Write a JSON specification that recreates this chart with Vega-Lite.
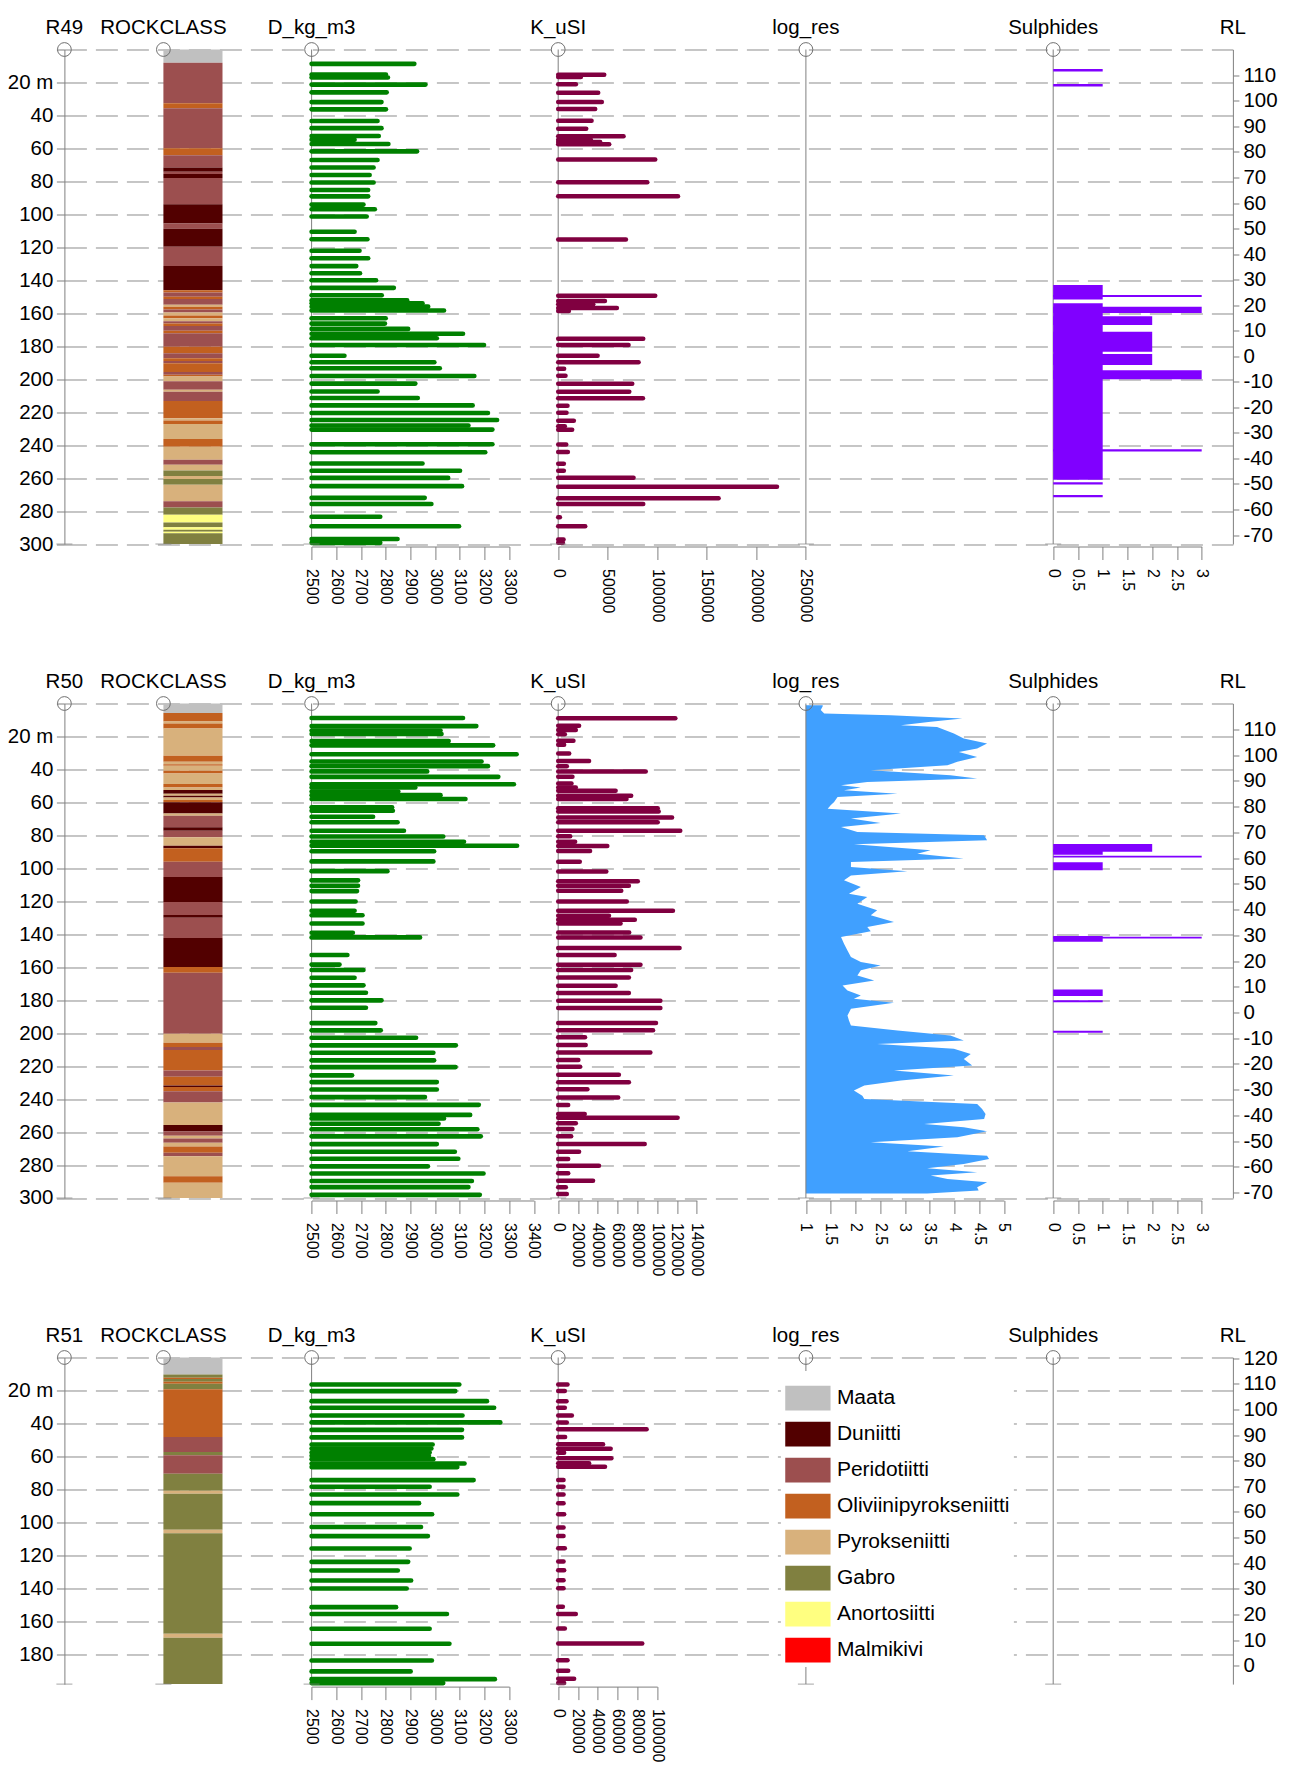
{
"$schema": "https://vega.github.io/schema/vega-lite/v6.json",
"background": "white",
"padding": {"left": 6.4, "top": 17.5, "right": 10, "bottom": 10},
"spacing": 49,
"config": {"view": {"stroke": null}, "font": "Liberation Sans", "axis": {"labelFont": "Liberation Sans", "domainWidth": 1, "tickWidth": 1}, "text": {"font": "Liberation Sans"}, "legend": {"labelFont": "Liberation Sans"}},
"resolve": {"scale": {"color": "independent"}, "legend": {"color": "independent"}},
"datasets": {
"r49_rock": [
{"from":0,"to":8.1,"rock":"Maata"},{"from":8.1,"to":32.6,"rock":"Peridotiitti"},{"from":32.6,"to":35.6,"rock":"Oliviinipyrokseniitti"},{"from":35.6,"to":59.9,"rock":"Peridotiitti"},{"from":59.9,"to":64.2,"rock":"Oliviinipyrokseniitti"},{"from":64.2,"to":71.6,"rock":"Peridotiitti"},{"from":71.6,"to":74.2,"rock":"Duniitti"},{"from":74.2,"to":75.5,"rock":"Peridotiitti"},{"from":75.5,"to":77.9,"rock":"Duniitti"},{"from":77.9,"to":93.9,"rock":"Peridotiitti"},{"from":93.9,"to":105.6,"rock":"Duniitti"},{"from":105.6,"to":108.8,"rock":"Peridotiitti"},{"from":108.8,"to":119.7,"rock":"Duniitti"},{"from":119.7,"to":131.4,"rock":"Peridotiitti"},{"from":131.4,"to":146.1,"rock":"Duniitti"},{"from":146.1,"to":147.4,"rock":"Oliviinipyrokseniitti"},{"from":147.4,"to":150,"rock":"Peridotiitti"},{"from":150,"to":151.3,"rock":"Oliviinipyrokseniitti"},{"from":151.3,"to":154.8,"rock":"Peridotiitti"},{"from":154.8,"to":156.1,"rock":"Pyrokseniitti"},{"from":156.1,"to":157.8,"rock":"Oliviinipyrokseniitti"},{"from":157.8,"to":159.6,"rock":"Peridotiitti"},{"from":159.6,"to":161.3,"rock":"Pyrokseniitti"},{"from":161.3,"to":163,"rock":"Oliviinipyrokseniitti"},{"from":163,"to":164.8,"rock":"Pyrokseniitti"},{"from":164.8,"to":166.3,"rock":"Peridotiitti"},{"from":166.3,"to":167.8,"rock":"Oliviinipyrokseniitti"},{"from":167.8,"to":170.6,"rock":"Peridotiitti"},{"from":170.6,"to":172.1,"rock":"Oliviinipyrokseniitti"},{"from":172.1,"to":180.4,"rock":"Peridotiitti"},{"from":180.4,"to":184.3,"rock":"Oliviinipyrokseniitti"},{"from":184.3,"to":187.3,"rock":"Peridotiitti"},{"from":187.3,"to":189,"rock":"Oliviinipyrokseniitti"},{"from":189,"to":190.4,"rock":"Peridotiitti"},{"from":190.4,"to":195.6,"rock":"Oliviinipyrokseniitti"},{"from":195.6,"to":197.3,"rock":"Peridotiitti"},{"from":197.3,"to":198.4,"rock":"Oliviinipyrokseniitti"},{"from":198.4,"to":201.2,"rock":"Pyrokseniitti"},{"from":201.2,"to":206.4,"rock":"Peridotiitti"},{"from":206.4,"to":207.7,"rock":"Pyrokseniitti"},{"from":207.7,"to":213.3,"rock":"Peridotiitti"},{"from":213.3,"to":223.7,"rock":"Oliviinipyrokseniitti"},{"from":223.7,"to":225,"rock":"Pyrokseniitti"},{"from":225,"to":227.2,"rock":"Oliviinipyrokseniitti"},{"from":227.2,"to":236.3,"rock":"Pyrokseniitti"},{"from":236.3,"to":241,"rock":"Oliviinipyrokseniitti"},{"from":241,"to":248.9,"rock":"Pyrokseniitti"},{"from":248.9,"to":251.9,"rock":"Peridotiitti"},{"from":251.9,"to":255.4,"rock":"Pyrokseniitti"},{"from":255.4,"to":258.8,"rock":"Gabro"},{"from":258.8,"to":260.6,"rock":"Pyrokseniitti"},{"from":260.6,"to":264,"rock":"Gabro"},{"from":264,"to":274,"rock":"Pyrokseniitti"},{"from":274,"to":277.9,"rock":"Peridotiitti"},{"from":277.9,"to":282.2,"rock":"Gabro"},{"from":282.2,"to":287,"rock":"Anortosiitti"},{"from":287,"to":289.8,"rock":"Gabro"},{"from":289.8,"to":291.3,"rock":"Anortosiitti"},{"from":291.3,"to":292.6,"rock":"Gabro"},{"from":292.6,"to":293.5,"rock":"Anortosiitti"},{"from":293.5,"to":300,"rock":"Gabro"}
],
"r49_d": [
{"depth":8.7,"d":2916},{"depth":15.2,"d":2801},{"depth":17,"d":2809},{"depth":21.3,"d":2961},{"depth":26,"d":2804},{"depth":31.9,"d":2783},{"depth":36.3,"d":2801},{"depth":43.4,"d":2767},{"depth":47.7,"d":2783},{"depth":52.5,"d":2772},{"depth":54.7,"d":2674},{"depth":57.3,"d":2811},{"depth":61.8,"d":2927},{"depth":67,"d":2767},{"depth":71.6,"d":2751},{"depth":76.1,"d":2735},{"depth":80.7,"d":2751},{"depth":85.2,"d":2729},{"depth":89.1,"d":2729},{"depth":94.1,"d":2710},{"depth":96.9,"d":2756},{"depth":101.3,"d":2723},{"depth":110.6,"d":2674},{"depth":115.1,"d":2726},{"depth":122.1,"d":2694},{"depth":126.6,"d":2729},{"depth":131.4,"d":2681},{"depth":135.7,"d":2696},{"depth":140,"d":2761},{"depth":144.6,"d":2833},{"depth":149.1,"d":2784},{"depth":152.2,"d":2887},{"depth":153.9,"d":2949},{"depth":156,"d":2972},{"depth":158.3,"d":3036},{"depth":163,"d":2800},{"depth":166.3,"d":2797},{"depth":169.5,"d":2891},{"depth":172.4,"d":3113},{"depth":175.2,"d":3007},{"depth":179.3,"d":3198},{"depth":185.8,"d":2633},{"depth":189.7,"d":2997},{"depth":193.4,"d":3019},{"depth":198.1,"d":3159},{"depth":202.7,"d":2920},{"depth":207.5,"d":2767},{"depth":211.4,"d":2930},{"depth":215.9,"d":3152},{"depth":220.5,"d":3214},{"depth":224.8,"d":3251},{"depth":228.1,"d":3135},{"depth":230.6,"d":3232},{"depth":239.5,"d":3232},{"depth":244.3,"d":3203},{"depth":251.2,"d":2949},{"depth":255.6,"d":3101},{"depth":259.9,"d":3053},{"depth":264.9,"d":3109},{"depth":272,"d":2958},{"depth":275.7,"d":2985},{"depth":283.5,"d":2778},{"depth":289.2,"d":3097},{"depth":297,"d":2848},{"depth":299.3,"d":2778}
],
"r49_k": [
{"depth":15.3,"k":46500},{"depth":16.7,"k":22900},{"depth":21.1,"k":17900},{"depth":26.2,"k":40400},{"depth":31.8,"k":44100},{"depth":36.1,"k":37400},{"depth":43.2,"k":33700},{"depth":48,"k":28300},{"depth":52.7,"k":66000},{"depth":54.7,"k":33000},{"depth":56.1,"k":42400},{"depth":57.5,"k":51500},{"depth":66.8,"k":98000},{"depth":80.6,"k":90000},{"depth":89.1,"k":121000},{"depth":115.2,"k":68400},{"depth":149.4,"k":98000},{"depth":152.6,"k":47200},{"depth":154.6,"k":35400},{"depth":156.8,"k":59300},{"depth":158.7,"k":10800},{"depth":175.5,"k":85900},{"depth":179.3,"k":71100},{"depth":185.8,"k":39800},{"depth":189.8,"k":81200},{"depth":193.7,"k":6000},{"depth":197.9,"k":7400},{"depth":202.8,"k":74800},{"depth":207.6,"k":71800},{"depth":211.5,"k":85600},{"depth":216.1,"k":9400},{"depth":220.4,"k":8400},{"depth":225.2,"k":15800},{"depth":228.6,"k":6700},{"depth":230.7,"k":14100},{"depth":239.6,"k":8100},{"depth":244.2,"k":9800},{"depth":251.3,"k":5700},{"depth":255.5,"k":5700},{"depth":259.8,"k":76100},{"depth":265.2,"k":221000},{"depth":272.3,"k":162000},{"depth":275.7,"k":85900},{"depth":283.8,"k":1700},{"depth":289.3,"k":27300},{"depth":297.2,"k":5400},{"depth":299.3,"k":4700}
],
"r49_s": [
{"from":11.8,"to":13.4,"s":1},{"from":20.9,"to":22.5,"s":1},{"from":142.9,"to":151.7,"s":1},{"from":149,"to":150.2,"s":3},{"from":153.9,"to":261,"s":1},{"from":156,"to":159.8,"s":3},{"from":161.9,"to":167.1,"s":2},{"from":171.3,"to":183.4,"s":2},{"from":184.7,"to":191.4,"s":2},{"from":194.6,"to":200.1,"s":3},{"from":242.5,"to":243.9,"s":3},{"from":262.5,"to":263.9,"s":1},{"from":270.3,"to":271.7,"s":1}
],
"r50_rock": [
{"from":0,"to":5.7,"rock":"Maata"},{"from":5.7,"to":10.9,"rock":"Oliviinipyrokseniitti"},{"from":10.9,"to":12.2,"rock":"Pyrokseniitti"},{"from":12.2,"to":15.2,"rock":"Oliviinipyrokseniitti"},{"from":15.2,"to":31.7,"rock":"Pyrokseniitti"},{"from":31.7,"to":35.4,"rock":"Oliviinipyrokseniitti"},{"from":35.4,"to":36.9,"rock":"Pyrokseniitti"},{"from":36.9,"to":37.8,"rock":"Oliviinipyrokseniitti"},{"from":37.8,"to":40.8,"rock":"Pyrokseniitti"},{"from":40.8,"to":42.5,"rock":"Oliviinipyrokseniitti"},{"from":42.5,"to":48.8,"rock":"Pyrokseniitti"},{"from":48.8,"to":51,"rock":"Oliviinipyrokseniitti"},{"from":51,"to":52.5,"rock":"Pyrokseniitti"},{"from":52.5,"to":54.7,"rock":"Duniitti"},{"from":54.7,"to":56,"rock":"Pyrokseniitti"},{"from":56,"to":57.1,"rock":"Duniitti"},{"from":57.1,"to":58.6,"rock":"Pyrokseniitti"},{"from":58.6,"to":59.9,"rock":"Oliviinipyrokseniitti"},{"from":59.9,"to":66.8,"rock":"Duniitti"},{"from":66.8,"to":68.1,"rock":"Pyrokseniitti"},{"from":68.1,"to":75,"rock":"Peridotiitti"},{"from":75,"to":77.2,"rock":"Duniitti"},{"from":77.2,"to":81.1,"rock":"Peridotiitti"},{"from":81.1,"to":86.3,"rock":"Pyrokseniitti"},{"from":86.3,"to":87.8,"rock":"Duniitti"},{"from":87.8,"to":96,"rock":"Oliviinipyrokseniitti"},{"from":96,"to":105.3,"rock":"Peridotiitti"},{"from":105.3,"to":120.5,"rock":"Duniitti"},{"from":120.5,"to":128.3,"rock":"Peridotiitti"},{"from":128.3,"to":130,"rock":"Duniitti"},{"from":130,"to":142.2,"rock":"Peridotiitti"},{"from":142.2,"to":159.9,"rock":"Duniitti"},{"from":159.9,"to":163.4,"rock":"Oliviinipyrokseniitti"},{"from":163.4,"to":200.4,"rock":"Peridotiitti"},{"from":200.4,"to":205.8,"rock":"Pyrokseniitti"},{"from":205.8,"to":208.4,"rock":"Oliviinipyrokseniitti"},{"from":208.4,"to":210.2,"rock":"Peridotiitti"},{"from":210.2,"to":222.7,"rock":"Oliviinipyrokseniitti"},{"from":222.7,"to":226.4,"rock":"Peridotiitti"},{"from":226.4,"to":231.8,"rock":"Oliviinipyrokseniitti"},{"from":231.8,"to":232.7,"rock":"Duniitti"},{"from":232.7,"to":235.3,"rock":"Oliviinipyrokseniitti"},{"from":235.3,"to":242,"rock":"Peridotiitti"},{"from":242,"to":255.7,"rock":"Pyrokseniitti"},{"from":255.7,"to":259.6,"rock":"Duniitti"},{"from":259.6,"to":262.2,"rock":"Peridotiitti"},{"from":262.2,"to":263.9,"rock":"Pyrokseniitti"},{"from":263.9,"to":266.5,"rock":"Peridotiitti"},{"from":266.5,"to":268.7,"rock":"Pyrokseniitti"},{"from":268.7,"to":272.6,"rock":"Oliviinipyrokseniitti"},{"from":272.6,"to":274.7,"rock":"Peridotiitti"},{"from":274.7,"to":286.8,"rock":"Pyrokseniitti"},{"from":286.8,"to":290.7,"rock":"Oliviinipyrokseniitti"},{"from":290.7,"to":300,"rock":"Pyrokseniitti"}
],
"r50_d": [
{"depth":8.8,"d":3113},{"depth":13.7,"d":3167},{"depth":16.4,"d":3022},{"depth":18.5,"d":3026},{"depth":22.8,"d":3055},{"depth":25.4,"d":3235},{"depth":30.8,"d":3330},{"depth":35.2,"d":3188},{"depth":38,"d":3214},{"depth":41.2,"d":2968},{"depth":44.5,"d":3256},{"depth":49,"d":3319},{"depth":51,"d":2920},{"depth":53.4,"d":2851},{"depth":55.6,"d":3022},{"depth":57.9,"d":3123},{"depth":62.9,"d":2826},{"depth":65.1,"d":2829},{"depth":68.7,"d":2749},{"depth":72,"d":2848},{"depth":77.2,"d":2874},{"depth":80.7,"d":3033},{"depth":83.9,"d":3117},{"depth":86.3,"d":3332},{"depth":89.6,"d":2996},{"depth":95.8,"d":2993},{"depth":101.7,"d":2807},{"depth":107.3,"d":2688},{"depth":110.6,"d":2688},{"depth":113.8,"d":2684},{"depth":120.1,"d":2678},{"depth":125.7,"d":2674},{"depth":128.5,"d":2706},{"depth":133.5,"d":2706},{"depth":139.1,"d":2667},{"depth":141.9,"d":2939},{"depth":152.6,"d":2645},{"depth":158.4,"d":2613},{"depth":161.7,"d":2710},{"depth":166.4,"d":2674},{"depth":171,"d":2710},{"depth":175.5,"d":2720},{"depth":180.1,"d":2783},{"depth":184.6,"d":2720},{"depth":193.9,"d":2758},{"depth":198.3,"d":2780},{"depth":202.8,"d":2923},{"depth":207.4,"d":3084},{"depth":211.9,"d":2993},{"depth":216.5,"d":2996},{"depth":220.6,"d":3083},{"depth":225.6,"d":2664},{"depth":229.7,"d":3007},{"depth":234.2,"d":3007},{"depth":238.8,"d":2959},{"depth":243.5,"d":3177},{"depth":249.6,"d":3142},{"depth":251.8,"d":3036},{"depth":255,"d":3014},{"depth":258.3,"d":3171},{"depth":262.6,"d":3185},{"depth":267.3,"d":3007},{"depth":271.9,"d":3080},{"depth":276.2,"d":3094},{"depth":280.8,"d":2971},{"depth":285.1,"d":3196},{"depth":289.7,"d":3149},{"depth":293.4,"d":3135},{"depth":298.1,"d":3181}
],
"r50_k": [
{"depth":8.9,"k":118300},{"depth":13.5,"k":21100},{"depth":16.1,"k":17800},{"depth":18.6,"k":6700},{"depth":22.6,"k":15400},{"depth":25,"k":6000},{"depth":30.3,"k":11100},{"depth":34.9,"k":31200},{"depth":38,"k":8700},{"depth":41.2,"k":88400},{"depth":44.5,"k":14400},{"depth":48.5,"k":13400},{"depth":51,"k":17800},{"depth":53,"k":58000},{"depth":56,"k":73700},{"depth":58,"k":69000},{"depth":63.5,"k":100500},{"depth":65.5,"k":101500},{"depth":69.1,"k":115000},{"depth":72.1,"k":100500},{"depth":77.2,"k":123300},{"depth":80.6,"k":12100},{"depth":83.9,"k":17100},{"depth":86.5,"k":49600},{"depth":89.5,"k":32200},{"depth":96,"k":21800},{"depth":101.9,"k":48600},{"depth":107.9,"k":80400},{"depth":110.6,"k":71400},{"depth":113.6,"k":63700},{"depth":120.1,"k":69300},{"depth":125.7,"k":115900},{"depth":128.7,"k":51300},{"depth":131.2,"k":77400},{"depth":133.4,"k":63000},{"depth":138.9,"k":71700},{"depth":141.9,"k":83100},{"depth":148.4,"k":122600},{"depth":152.6,"k":57000},{"depth":158.5,"k":83100},{"depth":161.7,"k":73700},{"depth":166.3,"k":71400},{"depth":171.2,"k":58000},{"depth":175.6,"k":71400},{"depth":180.3,"k":103200},{"depth":184.7,"k":103200},{"depth":193.8,"k":98800},{"depth":198.3,"k":95800},{"depth":202.5,"k":27100},{"depth":207.2,"k":27800},{"depth":211.8,"k":93100},{"depth":216.3,"k":20400},{"depth":220.3,"k":22100},{"depth":225.2,"k":61300},{"depth":229.8,"k":71400},{"depth":234.1,"k":29500},{"depth":239,"k":60600},{"depth":243.6,"k":10100},{"depth":249,"k":26800},{"depth":251.3,"k":120600},{"depth":254.7,"k":17800},{"depth":258.1,"k":14400},{"depth":262.6,"k":13100},{"depth":267.2,"k":87400},{"depth":271.9,"k":21100},{"depth":276.3,"k":10100},{"depth":280.4,"k":41200},{"depth":285,"k":10100},{"depth":289.5,"k":35200},{"depth":293.5,"k":7700},{"depth":297.5,"k":8700}
],
"r50_res": [
{"depth":1,"res":1.34},{"depth":1.6,"res":1.34},{"depth":4,"res":1.3},{"depth":6.1,"res":1.37},{"depth":7.1,"res":2.71},{"depth":9.1,"res":4.16},{"depth":11.1,"res":3.52},{"depth":13.2,"res":2.92},{"depth":14.2,"res":3.65},{"depth":18.2,"res":3.99},{"depth":21.3,"res":4.19},{"depth":24.3,"res":4.66},{"depth":27.3,"res":4.46},{"depth":29.4,"res":4.09},{"depth":32.4,"res":4.46},{"depth":35.4,"res":4.06},{"depth":37.4,"res":3.86},{"depth":40.5,"res":2.31},{"depth":43.5,"res":3.92},{"depth":45.5,"res":4.46},{"depth":47.6,"res":2.24},{"depth":49.6,"res":1.71},{"depth":51,"res":2.11},{"depth":52.6,"res":1.77},{"depth":54.7,"res":2.85},{"depth":56.7,"res":1.64},{"depth":59.7,"res":1.57},{"depth":61.7,"res":1.5},{"depth":63.8,"res":1.44},{"depth":66.8,"res":2.92},{"depth":69.8,"res":1.91},{"depth":72.5,"res":2.51},{"depth":74.9,"res":1.71},{"depth":77.9,"res":2.04},{"depth":80,"res":4.6},{"depth":83,"res":4.66},{"depth":85.4,"res":1.97},{"depth":89.1,"res":3.52},{"depth":91.1,"res":3.25},{"depth":94.1,"res":4.19},{"depth":96.2,"res":1.91},{"depth":99.2,"res":1.91},{"depth":101.8,"res":3.05},{"depth":104.3,"res":1.91},{"depth":107.3,"res":1.77},{"depth":111.3,"res":2.11},{"depth":115.4,"res":1.87},{"depth":117.4,"res":2.24},{"depth":121.5,"res":2.04},{"depth":125.5,"res":2.44},{"depth":128.5,"res":2.31},{"depth":132.6,"res":2.78},{"depth":135.6,"res":2.24},{"depth":138.1,"res":2.31},{"depth":141.7,"res":1.71},{"depth":145.7,"res":1.77},{"depth":149.8,"res":1.84},{"depth":153.8,"res":1.91},{"depth":156.9,"res":2.11},{"depth":158.9,"res":2.51},{"depth":161.9,"res":2.11},{"depth":165,"res":2.04},{"depth":168,"res":2.38},{"depth":171.1,"res":1.74},{"depth":174.1,"res":1.84},{"depth":177.1,"res":2.11},{"depth":179.1,"res":1.97},{"depth":181.6,"res":2.78},{"depth":185.2,"res":1.91},{"depth":189.3,"res":1.84},{"depth":192.3,"res":1.87},{"depth":195.3,"res":1.91},{"depth":198.4,"res":2.85},{"depth":201.4,"res":3.92},{"depth":204.5,"res":4.19},{"depth":206.5,"res":2.44},{"depth":209.5,"res":3.99},{"depth":212.6,"res":4.33},{"depth":215.6,"res":4.19},{"depth":219.6,"res":4.36},{"depth":222.7,"res":2.78},{"depth":225.7,"res":3.99},{"depth":228.7,"res":2.92},{"depth":231.8,"res":2.18},{"depth":234.8,"res":1.97},{"depth":237.9,"res":2.14},{"depth":239.9,"res":2.18},{"depth":242.9,"res":4.46},{"depth":246,"res":4.56},{"depth":249,"res":4.63},{"depth":252,"res":4.6},{"depth":255.1,"res":3.39},{"depth":257.1,"res":4.19},{"depth":259.5,"res":4.66},{"depth":263.2,"res":4.06},{"depth":266.2,"res":2.31},{"depth":268.8,"res":3.79},{"depth":271.7,"res":3.05},{"depth":274.3,"res":4.66},{"depth":276.3,"res":4.7},{"depth":279.4,"res":4.19},{"depth":282,"res":3.45},{"depth":284.4,"res":4.46},{"depth":286.4,"res":3.52},{"depth":288.5,"res":3.86},{"depth":290.5,"res":4.66},{"depth":293.5,"res":4.46},{"depth":295.5,"res":4.49},{"depth":297.2,"res":3.45}
],
"r50_s": [
{"from":85.2,"to":90,"s":2},{"from":88.5,"to":91.8,"s":1},{"from":92.4,"to":93.5,"s":3},{"from":96.3,"to":101.1,"s":1},{"from":141,"to":144.5,"s":1},{"from":141.5,"to":142.5,"s":3},{"from":173.5,"to":177.4,"s":1},{"from":180,"to":181.2,"s":1},{"from":198.6,"to":199.7,"s":1}
],
"r51_rock": [
{"from":0,"to":10.3,"rock":"Maata"},{"from":10.3,"to":12.3,"rock":"Gabro"},{"from":12.3,"to":13.1,"rock":"Oliviinipyrokseniitti"},{"from":13.1,"to":14.7,"rock":"Gabro"},{"from":14.7,"to":16,"rock":"Oliviinipyrokseniitti"},{"from":16,"to":19.2,"rock":"Gabro"},{"from":19.2,"to":48.2,"rock":"Oliviinipyrokseniitti"},{"from":48.2,"to":57.3,"rock":"Peridotiitti"},{"from":57.3,"to":59.3,"rock":"Gabro"},{"from":59.3,"to":70.6,"rock":"Peridotiitti"},{"from":70.6,"to":80.9,"rock":"Gabro"},{"from":80.9,"to":82.7,"rock":"Pyrokseniitti"},{"from":82.7,"to":104.6,"rock":"Gabro"},{"from":104.6,"to":106.6,"rock":"Pyrokseniitti"},{"from":106.6,"to":167.7,"rock":"Gabro"},{"from":167.7,"to":170.1,"rock":"Pyrokseniitti"},{"from":170.1,"to":198.2,"rock":"Gabro"}
],
"r51_d": [
{"depth":16.4,"d":3098},{"depth":20.4,"d":3082},{"depth":26.5,"d":3210},{"depth":30.5,"d":3239},{"depth":35.2,"d":3111},{"depth":39.4,"d":3264},{"depth":43.9,"d":3109},{"depth":48.5,"d":3109},{"depth":52.8,"d":2990},{"depth":55.2,"d":2985},{"depth":57.6,"d":2978},{"depth":59.6,"d":2975},{"depth":61.7,"d":2993},{"depth":64.3,"d":3119},{"depth":66.5,"d":3090},{"depth":74.4,"d":3156},{"depth":78.4,"d":2978},{"depth":83.1,"d":3090},{"depth":88.4,"d":2935},{"depth":95.1,"d":2988},{"depth":102.9,"d":2943},{"depth":108.4,"d":2971},{"depth":115.9,"d":2897},{"depth":124,"d":2891},{"depth":129.3,"d":2849},{"depth":135.3,"d":2903},{"depth":140.2,"d":2885},{"depth":151.5,"d":2842},{"depth":155.7,"d":3048},{"depth":164.6,"d":2978},{"depth":173.7,"d":3058},{"depth":183.9,"d":2987},{"depth":190.5,"d":2901},{"depth":195.2,"d":3242},{"depth":197.6,"d":3033}
],
"r51_k": [
{"depth":16.4,"k":9400},{"depth":20.4,"k":6700},{"depth":26.5,"k":8400},{"depth":30.5,"k":6700},{"depth":35.2,"k":13800},{"depth":39.4,"k":8700},{"depth":43.6,"k":89300},{"depth":48.3,"k":7000},{"depth":52.7,"k":45300},{"depth":55.4,"k":53000},{"depth":57.8,"k":6000},{"depth":61.2,"k":53700},{"depth":64.2,"k":31200},{"depth":66.3,"k":47300},{"depth":74.3,"k":5400},{"depth":78.4,"k":5400},{"depth":83.2,"k":5400},{"depth":88.5,"k":5400},{"depth":95.2,"k":6000},{"depth":103.2,"k":5400},{"depth":108.3,"k":5400},{"depth":115.8,"k":6700},{"depth":123.8,"k":5400},{"depth":129.1,"k":6000},{"depth":135.2,"k":5400},{"depth":140,"k":5400},{"depth":151.3,"k":4700},{"depth":155.6,"k":17800},{"depth":164.4,"k":6700},{"depth":173.5,"k":84900},{"depth":183.8,"k":9400},{"depth":190.1,"k":10100},{"depth":195,"k":16100},{"depth":197.6,"k":6000}
]
},
"vconcat": [
{
"width": 1168.5, "height": 494.5,
"resolve": {"scale": {"x": "independent", "y": "independent"}, "axis": {"x": "independent", "y": "independent"}},
"layer": [
{
"resolve": {"scale": {"x": "independent"}, "axis": {"x": "independent"}},
"layer": [
{"layer": [
{"data": {"values": [{"t": "R49"}]}, "mark": {"type": "text", "fontSize": 20.5, "align": "center", "baseline": "alphabetic", "dy": -15.3, "color": "#000000"}, "encoding": {"x": {"datum": 0, "type": "quantitative", "scale": {"domain": [0, 1], "range": [0, 1168.5], "nice": false, "zero": false}, "axis": null}, "y": {"datum": 0, "type": "quantitative", "scale": {"domain": [0, 300], "reverse": true, "nice": false, "zero": false}, "axis": null}, "text": {"field": "t"}}},
{"data": {"values": [{"t": "RL"}]}, "mark": {"type": "text", "fontSize": 20.5, "align": "center", "baseline": "alphabetic", "dy": -15.3, "color": "#000000"}, "encoding": {"x": {"datum": 1, "type": "quantitative", "axis": null}, "y": {"datum": 0, "type": "quantitative", "axis": null}, "text": {"field": "t"}}},
{"data": {"values": [{}]}, "mark": {"type": "point", "shape": "circle", "filled": false, "size": 190, "color": "#6e6e6e", "strokeWidth": 1, "opacity": 1}, "encoding": {"x": {"datum": 0, "type": "quantitative", "axis": null}, "y": {"datum": 0, "type": "quantitative", "axis": null}}},
{"data": {"values": [{}]}, "mark": {"type": "tick", "orient": "horizontal", "size": 16, "thickness": 1, "color": "#7f7f7f"}, "encoding": {"x": {"datum": 0, "type": "quantitative", "axis": null}, "y": {"datum": 300, "type": "quantitative", "axis": null}}}
]},
{"layer": [
{"data": {"name": "r49_rock"}, "mark": {"type": "rect"}, "encoding": {"x": {"datum": 0, "type": "quantitative", "scale": {"domain": [0, 1], "range": [99, 158.1], "nice": false, "zero": false}, "axis": null}, "x2": {"datum": 1}, "y": {"field": "from", "type": "quantitative", "scale": {"domain": [0, 300], "reverse": true, "nice": false, "zero": false}, "axis": null}, "y2": {"field": "to"}, "color": {"field": "rock", "type": "nominal", "scale": {"domain": ["Maata","Duniitti","Peridotiitti","Oliviinipyrokseniitti","Pyrokseniitti","Gabro","Anortosiitti","Malmikivi"], "range": ["#c0c0c0","#520000","#9c4f4f","#c2601f","#d8b17c","#808040","#ffff80","#ff0000"]}, "legend": null}}},
{"data": {"values": [{"t": "ROCKCLASS"}]}, "mark": {"type": "text", "fontSize": 20.5, "align": "center", "baseline": "alphabetic", "dy": -15.3, "color": "#000000"}, "encoding": {"x": {"datum": 0, "type": "quantitative", "axis": null}, "y": {"datum": 0, "type": "quantitative", "axis": null}, "text": {"field": "t"}}},
{"data": {"values": [{}]}, "mark": {"type": "point", "shape": "circle", "filled": false, "size": 190, "color": "#6e6e6e", "strokeWidth": 1, "opacity": 1}, "encoding": {"x": {"datum": 0, "type": "quantitative", "axis": null}, "y": {"datum": 0, "type": "quantitative", "axis": null}}},
{"data": {"values": [{}]}, "mark": {"type": "tick", "orient": "horizontal", "size": 16, "thickness": 1, "color": "#7f7f7f"}, "encoding": {"x": {"datum": 0, "type": "quantitative", "axis": null}, "y": {"datum": 300, "type": "quantitative", "axis": null}}}
]},
{"layer": [
{"data": {"values": [{}]}, "mark": {"type": "rule", "color": "#7f7f7f", "strokeWidth": 1}, "encoding": {"x": {"datum": 2500, "type": "quantitative"}, "y": {"datum": 0, "type": "quantitative", "axis": null}, "y2": {"datum": 300}}},
{"data": {"name": "r49_d"}, "mark": {"type": "rule", "color": "#008000", "strokeWidth": 4.6, "strokeCap": "round"}, "encoding": {"x": {"field": "d", "type": "quantitative", "scale": {"domain": [2500, 3300], "range": [247.2, 444.8], "nice": false, "zero": false}, "axis": {"orient": "bottom", "title": null, "values": [2500,2600,2700,2800,2900,3000,3100,3200,3300], "format": "d", "labelAngle": 90, "labelFontSize": 16, "labelColor": "#000000", "tickSize": 13, "tickColor": "#7f7f7f", "domainColor": "#7f7f7f", "labelPadding": 9, "offset": 2.5, "grid": false, "labelFlush": false, "labelOverlap": false, "labelBound": false}}, "x2": {"datum": 2500}, "y": {"field": "depth", "type": "quantitative", "scale": {"domain": [0, 300], "reverse": true, "nice": false, "zero": false}, "axis": null}}},
{"data": {"values": [{"t": "D_kg_m3"}]}, "mark": {"type": "text", "fontSize": 20.5, "align": "center", "baseline": "alphabetic", "dy": -15.3, "color": "#000000"}, "encoding": {"x": {"datum": 2500, "type": "quantitative"}, "y": {"datum": 0, "type": "quantitative", "axis": null}, "text": {"field": "t"}}},
{"data": {"values": [{}]}, "mark": {"type": "point", "shape": "circle", "filled": false, "size": 190, "color": "#6e6e6e", "strokeWidth": 1, "opacity": 1}, "encoding": {"x": {"datum": 2500, "type": "quantitative"}, "y": {"datum": 0, "type": "quantitative", "axis": null}}},
{"data": {"values": [{}]}, "mark": {"type": "tick", "orient": "horizontal", "size": 16, "thickness": 1, "color": "#7f7f7f"}, "encoding": {"x": {"datum": 2500, "type": "quantitative"}, "y": {"datum": 300, "type": "quantitative", "axis": null}}}
]},
{"layer": [
{"data": {"values": [{}]}, "mark": {"type": "rule", "color": "#7f7f7f", "strokeWidth": 1}, "encoding": {"x": {"datum": 0, "type": "quantitative"}, "y": {"datum": 0, "type": "quantitative", "axis": null}, "y2": {"datum": 300}}},
{"data": {"name": "r49_k"}, "mark": {"type": "rule", "color": "#800040", "strokeWidth": 4.5, "strokeCap": "round"}, "encoding": {"x": {"field": "k", "type": "quantitative", "scale": {"domain": [0, 250000], "range": [493.8, 741.3], "nice": false, "zero": false}, "axis": {"orient": "bottom", "title": null, "values": [0,50000,100000,150000,200000,250000], "format": "d", "labelAngle": 90, "labelFontSize": 16, "labelColor": "#000000", "tickSize": 13, "tickColor": "#7f7f7f", "domainColor": "#7f7f7f", "labelPadding": 9, "offset": 2.5, "grid": false, "labelFlush": false, "labelOverlap": false, "labelBound": false}}, "x2": {"datum": 0}, "y": {"field": "depth", "type": "quantitative", "scale": {"domain": [0, 300], "reverse": true, "nice": false, "zero": false}, "axis": null}}},
{"data": {"values": [{"t": "K_uSI"}]}, "mark": {"type": "text", "fontSize": 20.5, "align": "center", "baseline": "alphabetic", "dy": -15.3, "color": "#000000"}, "encoding": {"x": {"datum": 0, "type": "quantitative"}, "y": {"datum": 0, "type": "quantitative", "axis": null}, "text": {"field": "t"}}},
{"data": {"values": [{}]}, "mark": {"type": "point", "shape": "circle", "filled": false, "size": 190, "color": "#6e6e6e", "strokeWidth": 1, "opacity": 1}, "encoding": {"x": {"datum": 0, "type": "quantitative"}, "y": {"datum": 0, "type": "quantitative", "axis": null}}},
{"data": {"values": [{}]}, "mark": {"type": "tick", "orient": "horizontal", "size": 16, "thickness": 1, "color": "#7f7f7f"}, "encoding": {"x": {"datum": 0, "type": "quantitative"}, "y": {"datum": 300, "type": "quantitative", "axis": null}}}
]},
{"layer": [
{"data": {"values": [{}]}, "mark": {"type": "rule", "color": "#7f7f7f", "strokeWidth": 1}, "encoding": {"x": {"datum": 1, "type": "quantitative", "scale": {"domain": [1, 5], "range": [741.5, 939.5], "nice": false, "zero": false}, "axis": null}, "y": {"datum": 0, "type": "quantitative", "axis": null}, "y2": {"datum": 300}}},
{"data": {"values": [{"t": "log_res"}]}, "mark": {"type": "text", "fontSize": 20.5, "align": "center", "baseline": "alphabetic", "dy": -15.3, "color": "#000000"}, "encoding": {"x": {"datum": 1, "type": "quantitative", "axis": null}, "y": {"datum": 0, "type": "quantitative", "axis": null}, "text": {"field": "t"}}},
{"data": {"values": [{}]}, "mark": {"type": "point", "shape": "circle", "filled": false, "size": 190, "color": "#6e6e6e", "strokeWidth": 1, "opacity": 1}, "encoding": {"x": {"datum": 1, "type": "quantitative", "axis": null}, "y": {"datum": 0, "type": "quantitative", "axis": null}}},
{"data": {"values": [{}]}, "mark": {"type": "tick", "orient": "horizontal", "size": 16, "thickness": 1, "color": "#7f7f7f"}, "encoding": {"x": {"datum": 1, "type": "quantitative", "axis": null}, "y": {"datum": 300, "type": "quantitative", "axis": null}}}
]},
{"layer": [
{"data": {"values": [{}]}, "mark": {"type": "rule", "color": "#7f7f7f", "strokeWidth": 1}, "encoding": {"x": {"datum": 0, "type": "quantitative"}, "y": {"datum": 0, "type": "quantitative", "axis": null}, "y2": {"datum": 300}}},
{"data": {"name": "r49_s"}, "mark": {"type": "rect", "color": "#8000ff"}, "encoding": {"x": {"field": "s", "type": "quantitative", "scale": {"domain": [0, 3], "range": [988.8, 1137.3], "nice": false, "zero": false}, "axis": {"orient": "bottom", "title": null, "values": [0,0.5,1,1.5,2,2.5,3], "labelAngle": 90, "labelFontSize": 16, "labelColor": "#000000", "tickSize": 13, "tickColor": "#7f7f7f", "domainColor": "#7f7f7f", "labelPadding": 9, "offset": 2.5, "grid": false, "labelFlush": false, "labelOverlap": false, "labelBound": false, "labelExpr": "'' + datum.value"}}, "x2": {"datum": 0}, "y": {"field": "from", "type": "quantitative", "scale": {"domain": [0, 300], "reverse": true, "nice": false, "zero": false}, "axis": null}, "y2": {"field": "to"}}},
{"data": {"values": [{"t": "Sulphides"}]}, "mark": {"type": "text", "fontSize": 20.5, "align": "center", "baseline": "alphabetic", "dy": -15.3, "color": "#000000"}, "encoding": {"x": {"datum": 0, "type": "quantitative"}, "y": {"datum": 0, "type": "quantitative", "axis": null}, "text": {"field": "t"}}},
{"data": {"values": [{}]}, "mark": {"type": "point", "shape": "circle", "filled": false, "size": 190, "color": "#6e6e6e", "strokeWidth": 1, "opacity": 1}, "encoding": {"x": {"datum": 0, "type": "quantitative"}, "y": {"datum": 0, "type": "quantitative", "axis": null}}},
{"data": {"values": [{}]}, "mark": {"type": "tick", "orient": "horizontal", "size": 16, "thickness": 1, "color": "#7f7f7f"}, "encoding": {"x": {"datum": 0, "type": "quantitative"}, "y": {"datum": 300, "type": "quantitative", "axis": null}}}
]}
]
},
{"data": {"values": [{"depth": 0}, {"depth": 300}]}, "mark": {"type": "point", "opacity": 0}, "encoding": {"y": {"field": "depth", "type": "quantitative", "scale": {"domain": [0, 300], "reverse": true, "nice": false, "zero": false}, "axis": {"orient": "left", "title": null, "values": [0,20,40,60,80,100,120,140,160,180,200,220,240,260,280,300], "labelExpr": "datum.value == 20 ? '20 m' : (datum.value == 0 ? '' : '' + datum.value)", "labelFontSize": 20.5, "labelColor": "#000000", "tickSize": 8, "tickColor": "#7f7f7f", "domainColor": "#7f7f7f", "labelPadding": 3.5, "grid": true, "gridColor": "#8c8c8c", "gridDash": [22, 9], "gridWidth": 1, "labelFlush": false, "labelOverlap": false, "labelBound": false}}}},
{"data": {"values": [{"rl": 120.1}, {"rl": -73.5}]}, "mark": {"type": "point", "opacity": 0}, "encoding": {"y": {"field": "rl", "type": "quantitative", "scale": {"domain": [-73.5, 120.1], "nice": false, "zero": false}, "axis": {"orient": "right", "title": null, "values": [110,100,90,80,70,60,50,40,30,20,10,0,-10,-20,-30,-40,-50,-60,-70], "labelExpr": "'' + datum.value", "labelFontSize": 20.5, "labelColor": "#000000", "tickSize": 6, "tickColor": "#7f7f7f", "domainColor": "#7f7f7f", "labelPadding": 4, "grid": false, "labelFlush": false, "labelOverlap": false, "labelBound": false}}}}
]
},
{
"width": 1168.5, "height": 494.5,
"resolve": {"scale": {"x": "independent", "y": "independent"}, "axis": {"x": "independent", "y": "independent"}},
"layer": [
{
"resolve": {"scale": {"x": "independent"}, "axis": {"x": "independent"}},
"layer": [
{"layer": [
{"data": {"values": [{"t": "R50"}]}, "mark": {"type": "text", "fontSize": 20.5, "align": "center", "baseline": "alphabetic", "dy": -15.3, "color": "#000000"}, "encoding": {"x": {"datum": 0, "type": "quantitative", "scale": {"domain": [0, 1], "range": [0, 1168.5], "nice": false, "zero": false}, "axis": null}, "y": {"datum": 0, "type": "quantitative", "scale": {"domain": [0, 300], "reverse": true, "nice": false, "zero": false}, "axis": null}, "text": {"field": "t"}}},
{"data": {"values": [{"t": "RL"}]}, "mark": {"type": "text", "fontSize": 20.5, "align": "center", "baseline": "alphabetic", "dy": -15.3, "color": "#000000"}, "encoding": {"x": {"datum": 1, "type": "quantitative", "axis": null}, "y": {"datum": 0, "type": "quantitative", "axis": null}, "text": {"field": "t"}}},
{"data": {"values": [{}]}, "mark": {"type": "point", "shape": "circle", "filled": false, "size": 190, "color": "#6e6e6e", "strokeWidth": 1, "opacity": 1}, "encoding": {"x": {"datum": 0, "type": "quantitative", "axis": null}, "y": {"datum": 0, "type": "quantitative", "axis": null}}},
{"data": {"values": [{}]}, "mark": {"type": "tick", "orient": "horizontal", "size": 16, "thickness": 1, "color": "#7f7f7f"}, "encoding": {"x": {"datum": 0, "type": "quantitative", "axis": null}, "y": {"datum": 300, "type": "quantitative", "axis": null}}}
]},
{"layer": [
{"data": {"name": "r50_rock"}, "mark": {"type": "rect"}, "encoding": {"x": {"datum": 0, "type": "quantitative", "scale": {"domain": [0, 1], "range": [99, 158.1], "nice": false, "zero": false}, "axis": null}, "x2": {"datum": 1}, "y": {"field": "from", "type": "quantitative", "scale": {"domain": [0, 300], "reverse": true, "nice": false, "zero": false}, "axis": null}, "y2": {"field": "to"}, "color": {"field": "rock", "type": "nominal", "scale": {"domain": ["Maata","Duniitti","Peridotiitti","Oliviinipyrokseniitti","Pyrokseniitti","Gabro","Anortosiitti","Malmikivi"], "range": ["#c0c0c0","#520000","#9c4f4f","#c2601f","#d8b17c","#808040","#ffff80","#ff0000"]}, "legend": null}}},
{"data": {"values": [{"t": "ROCKCLASS"}]}, "mark": {"type": "text", "fontSize": 20.5, "align": "center", "baseline": "alphabetic", "dy": -15.3, "color": "#000000"}, "encoding": {"x": {"datum": 0, "type": "quantitative", "axis": null}, "y": {"datum": 0, "type": "quantitative", "axis": null}, "text": {"field": "t"}}},
{"data": {"values": [{}]}, "mark": {"type": "point", "shape": "circle", "filled": false, "size": 190, "color": "#6e6e6e", "strokeWidth": 1, "opacity": 1}, "encoding": {"x": {"datum": 0, "type": "quantitative", "axis": null}, "y": {"datum": 0, "type": "quantitative", "axis": null}}},
{"data": {"values": [{}]}, "mark": {"type": "tick", "orient": "horizontal", "size": 16, "thickness": 1, "color": "#7f7f7f"}, "encoding": {"x": {"datum": 0, "type": "quantitative", "axis": null}, "y": {"datum": 300, "type": "quantitative", "axis": null}}}
]},
{"layer": [
{"data": {"values": [{}]}, "mark": {"type": "rule", "color": "#7f7f7f", "strokeWidth": 1}, "encoding": {"x": {"datum": 2500, "type": "quantitative"}, "y": {"datum": 0, "type": "quantitative", "axis": null}, "y2": {"datum": 300}}},
{"data": {"name": "r50_d"}, "mark": {"type": "rule", "color": "#008000", "strokeWidth": 4.6, "strokeCap": "round"}, "encoding": {"x": {"field": "d", "type": "quantitative", "scale": {"domain": [2500, 3400], "range": [247.2, 469.5], "nice": false, "zero": false}, "axis": {"orient": "bottom", "title": null, "values": [2500,2600,2700,2800,2900,3000,3100,3200,3300,3400], "format": "d", "labelAngle": 90, "labelFontSize": 16, "labelColor": "#000000", "tickSize": 13, "tickColor": "#7f7f7f", "domainColor": "#7f7f7f", "labelPadding": 9, "offset": 2.5, "grid": false, "labelFlush": false, "labelOverlap": false, "labelBound": false}}, "x2": {"datum": 2500}, "y": {"field": "depth", "type": "quantitative", "scale": {"domain": [0, 300], "reverse": true, "nice": false, "zero": false}, "axis": null}}},
{"data": {"values": [{"t": "D_kg_m3"}]}, "mark": {"type": "text", "fontSize": 20.5, "align": "center", "baseline": "alphabetic", "dy": -15.3, "color": "#000000"}, "encoding": {"x": {"datum": 2500, "type": "quantitative"}, "y": {"datum": 0, "type": "quantitative", "axis": null}, "text": {"field": "t"}}},
{"data": {"values": [{}]}, "mark": {"type": "point", "shape": "circle", "filled": false, "size": 190, "color": "#6e6e6e", "strokeWidth": 1, "opacity": 1}, "encoding": {"x": {"datum": 2500, "type": "quantitative"}, "y": {"datum": 0, "type": "quantitative", "axis": null}}},
{"data": {"values": [{}]}, "mark": {"type": "tick", "orient": "horizontal", "size": 16, "thickness": 1, "color": "#7f7f7f"}, "encoding": {"x": {"datum": 2500, "type": "quantitative"}, "y": {"datum": 300, "type": "quantitative", "axis": null}}}
]},
{"layer": [
{"data": {"values": [{}]}, "mark": {"type": "rule", "color": "#7f7f7f", "strokeWidth": 1}, "encoding": {"x": {"datum": 0, "type": "quantitative"}, "y": {"datum": 0, "type": "quantitative", "axis": null}, "y2": {"datum": 300}}},
{"data": {"name": "r50_k"}, "mark": {"type": "rule", "color": "#800040", "strokeWidth": 4.5, "strokeCap": "round"}, "encoding": {"x": {"field": "k", "type": "quantitative", "scale": {"domain": [0, 140000], "range": [493.8, 632.4], "nice": false, "zero": false}, "axis": {"orient": "bottom", "title": null, "values": [0,20000,40000,60000,80000,100000,120000,140000], "format": "d", "labelAngle": 90, "labelFontSize": 16, "labelColor": "#000000", "tickSize": 13, "tickColor": "#7f7f7f", "domainColor": "#7f7f7f", "labelPadding": 9, "offset": 2.5, "grid": false, "labelFlush": false, "labelOverlap": false, "labelBound": false}}, "x2": {"datum": 0}, "y": {"field": "depth", "type": "quantitative", "scale": {"domain": [0, 300], "reverse": true, "nice": false, "zero": false}, "axis": null}}},
{"data": {"values": [{"t": "K_uSI"}]}, "mark": {"type": "text", "fontSize": 20.5, "align": "center", "baseline": "alphabetic", "dy": -15.3, "color": "#000000"}, "encoding": {"x": {"datum": 0, "type": "quantitative"}, "y": {"datum": 0, "type": "quantitative", "axis": null}, "text": {"field": "t"}}},
{"data": {"values": [{}]}, "mark": {"type": "point", "shape": "circle", "filled": false, "size": 190, "color": "#6e6e6e", "strokeWidth": 1, "opacity": 1}, "encoding": {"x": {"datum": 0, "type": "quantitative"}, "y": {"datum": 0, "type": "quantitative", "axis": null}}},
{"data": {"values": [{}]}, "mark": {"type": "tick", "orient": "horizontal", "size": 16, "thickness": 1, "color": "#7f7f7f"}, "encoding": {"x": {"datum": 0, "type": "quantitative"}, "y": {"datum": 300, "type": "quantitative", "axis": null}}}
]},
{"layer": [
{"data": {"name": "r50_res"}, "mark": {"type": "area", "orient": "horizontal", "color": "#40a0ff", "opacity": 1}, "encoding": {"x": {"field": "res", "type": "quantitative", "scale": {"domain": [1, 5], "range": [741.5, 939.5], "nice": false, "zero": false}, "axis": {"orient": "bottom", "title": null, "values": [1,1.5,2,2.5,3,3.5,4,4.5,5], "labelExpr": "'' + datum.value", "labelAngle": 90, "labelFontSize": 16, "labelColor": "#000000", "tickSize": 13, "tickColor": "#7f7f7f", "domainColor": "#7f7f7f", "labelPadding": 9, "offset": 2.5, "grid": false, "labelFlush": false, "labelOverlap": false, "labelBound": false}}, "x2": {"datum": 1}, "y": {"field": "depth", "type": "quantitative", "scale": {"domain": [0, 300], "reverse": true, "nice": false, "zero": false}, "axis": null}}},
{"data": {"values": [{}]}, "mark": {"type": "rule", "color": "#7f7f7f", "strokeWidth": 1}, "encoding": {"x": {"datum": 1, "type": "quantitative"}, "y": {"datum": 0, "type": "quantitative", "axis": null}, "y2": {"datum": 300}}},
{"data": {"values": [{"t": "log_res"}]}, "mark": {"type": "text", "fontSize": 20.5, "align": "center", "baseline": "alphabetic", "dy": -15.3, "color": "#000000"}, "encoding": {"x": {"datum": 1, "type": "quantitative"}, "y": {"datum": 0, "type": "quantitative", "axis": null}, "text": {"field": "t"}}},
{"data": {"values": [{}]}, "mark": {"type": "point", "shape": "circle", "filled": false, "size": 190, "color": "#6e6e6e", "strokeWidth": 1, "opacity": 1}, "encoding": {"x": {"datum": 1, "type": "quantitative"}, "y": {"datum": 0, "type": "quantitative", "axis": null}}},
{"data": {"values": [{}]}, "mark": {"type": "tick", "orient": "horizontal", "size": 16, "thickness": 1, "color": "#7f7f7f"}, "encoding": {"x": {"datum": 1, "type": "quantitative"}, "y": {"datum": 300, "type": "quantitative", "axis": null}}}
]},
{"layer": [
{"data": {"values": [{}]}, "mark": {"type": "rule", "color": "#7f7f7f", "strokeWidth": 1}, "encoding": {"x": {"datum": 0, "type": "quantitative"}, "y": {"datum": 0, "type": "quantitative", "axis": null}, "y2": {"datum": 300}}},
{"data": {"name": "r50_s"}, "mark": {"type": "rect", "color": "#8000ff"}, "encoding": {"x": {"field": "s", "type": "quantitative", "scale": {"domain": [0, 3], "range": [988.8, 1137.3], "nice": false, "zero": false}, "axis": {"orient": "bottom", "title": null, "values": [0,0.5,1,1.5,2,2.5,3], "labelAngle": 90, "labelFontSize": 16, "labelColor": "#000000", "tickSize": 13, "tickColor": "#7f7f7f", "domainColor": "#7f7f7f", "labelPadding": 9, "offset": 2.5, "grid": false, "labelFlush": false, "labelOverlap": false, "labelBound": false, "labelExpr": "'' + datum.value"}}, "x2": {"datum": 0}, "y": {"field": "from", "type": "quantitative", "scale": {"domain": [0, 300], "reverse": true, "nice": false, "zero": false}, "axis": null}, "y2": {"field": "to"}}},
{"data": {"values": [{"t": "Sulphides"}]}, "mark": {"type": "text", "fontSize": 20.5, "align": "center", "baseline": "alphabetic", "dy": -15.3, "color": "#000000"}, "encoding": {"x": {"datum": 0, "type": "quantitative"}, "y": {"datum": 0, "type": "quantitative", "axis": null}, "text": {"field": "t"}}},
{"data": {"values": [{}]}, "mark": {"type": "point", "shape": "circle", "filled": false, "size": 190, "color": "#6e6e6e", "strokeWidth": 1, "opacity": 1}, "encoding": {"x": {"datum": 0, "type": "quantitative"}, "y": {"datum": 0, "type": "quantitative", "axis": null}}},
{"data": {"values": [{}]}, "mark": {"type": "tick", "orient": "horizontal", "size": 16, "thickness": 1, "color": "#7f7f7f"}, "encoding": {"x": {"datum": 0, "type": "quantitative"}, "y": {"datum": 300, "type": "quantitative", "axis": null}}}
]}
]
},
{"data": {"values": [{"depth": 0}, {"depth": 300}]}, "mark": {"type": "point", "opacity": 0}, "encoding": {"y": {"field": "depth", "type": "quantitative", "scale": {"domain": [0, 300], "reverse": true, "nice": false, "zero": false}, "axis": {"orient": "left", "title": null, "values": [0,20,40,60,80,100,120,140,160,180,200,220,240,260,280,300], "labelExpr": "datum.value == 20 ? '20 m' : (datum.value == 0 ? '' : '' + datum.value)", "labelFontSize": 20.5, "labelColor": "#000000", "tickSize": 8, "tickColor": "#7f7f7f", "domainColor": "#7f7f7f", "labelPadding": 3.5, "grid": true, "gridColor": "#8c8c8c", "gridDash": [22, 9], "gridWidth": 1, "labelFlush": false, "labelOverlap": false, "labelBound": false}}}},
{"data": {"values": [{"rl": 120.1}, {"rl": -72.1}]}, "mark": {"type": "point", "opacity": 0}, "encoding": {"y": {"field": "rl", "type": "quantitative", "scale": {"domain": [-72.1, 120.1], "nice": false, "zero": false}, "axis": {"orient": "right", "title": null, "values": [110,100,90,80,70,60,50,40,30,20,10,0,-10,-20,-30,-40,-50,-60,-70], "labelExpr": "'' + datum.value", "labelFontSize": 20.5, "labelColor": "#000000", "tickSize": 6, "tickColor": "#7f7f7f", "domainColor": "#7f7f7f", "labelPadding": 4, "grid": false, "labelFlush": false, "labelOverlap": false, "labelBound": false}}}}
]
},
{
"width": 1168.5, "height": 326.6,
"resolve": {"scale": {"x": "independent", "y": "independent"}, "axis": {"x": "independent", "y": "independent"}},
"layer": [
{
"resolve": {"scale": {"x": "independent"}, "axis": {"x": "independent"}},
"layer": [
{"layer": [
{"data": {"values": [{"t": "R51"}]}, "mark": {"type": "text", "fontSize": 20.5, "align": "center", "baseline": "alphabetic", "dy": -15.3, "color": "#000000"}, "encoding": {"x": {"datum": 0, "type": "quantitative", "scale": {"domain": [0, 1], "range": [0, 1168.5], "nice": false, "zero": false}, "axis": null}, "y": {"datum": 0, "type": "quantitative", "scale": {"domain": [0, 198.2], "reverse": true, "nice": false, "zero": false}, "axis": null}, "text": {"field": "t"}}},
{"data": {"values": [{"t": "RL"}]}, "mark": {"type": "text", "fontSize": 20.5, "align": "center", "baseline": "alphabetic", "dy": -15.3, "color": "#000000"}, "encoding": {"x": {"datum": 1, "type": "quantitative", "axis": null}, "y": {"datum": 0, "type": "quantitative", "axis": null}, "text": {"field": "t"}}},
{"data": {"values": [{}]}, "mark": {"type": "point", "shape": "circle", "filled": false, "size": 190, "color": "#6e6e6e", "strokeWidth": 1, "opacity": 1}, "encoding": {"x": {"datum": 0, "type": "quantitative", "axis": null}, "y": {"datum": 0, "type": "quantitative", "axis": null}}},
{"data": {"values": [{}]}, "mark": {"type": "tick", "orient": "horizontal", "size": 16, "thickness": 1, "color": "#7f7f7f"}, "encoding": {"x": {"datum": 0, "type": "quantitative", "axis": null}, "y": {"datum": 198.2, "type": "quantitative", "axis": null}}}
]},
{"layer": [
{"data": {"name": "r51_rock"}, "mark": {"type": "rect"}, "encoding": {"x": {"datum": 0, "type": "quantitative", "scale": {"domain": [0, 1], "range": [99, 158.1], "nice": false, "zero": false}, "axis": null}, "x2": {"datum": 1}, "y": {"field": "from", "type": "quantitative", "scale": {"domain": [0, 198.2], "reverse": true, "nice": false, "zero": false}, "axis": null}, "y2": {"field": "to"}, "color": {"field": "rock", "type": "nominal", "scale": {"domain": ["Maata","Duniitti","Peridotiitti","Oliviinipyrokseniitti","Pyrokseniitti","Gabro","Anortosiitti","Malmikivi"], "range": ["#c0c0c0","#520000","#9c4f4f","#c2601f","#d8b17c","#808040","#ffff80","#ff0000"]}, "legend": {"orient": "none", "legendX": 716.5, "legendY": 13.6, "title": null, "direction": "vertical", "fillColor": "#ffffff", "padding": 4, "symbolType": "M-1,-0.545H1V0.545H-1Z", "symbolSize": 2052, "symbolStrokeWidth": 0, "symbolOpacity": 1, "labelFontSize": 21, "labelColor": "#000000", "labelOffset": 6, "rowPadding": -2.8, "labelLimit": 400}}}},
{"data": {"values": [{"t": "ROCKCLASS"}]}, "mark": {"type": "text", "fontSize": 20.5, "align": "center", "baseline": "alphabetic", "dy": -15.3, "color": "#000000"}, "encoding": {"x": {"datum": 0, "type": "quantitative", "axis": null}, "y": {"datum": 0, "type": "quantitative", "axis": null}, "text": {"field": "t"}}},
{"data": {"values": [{}]}, "mark": {"type": "point", "shape": "circle", "filled": false, "size": 190, "color": "#6e6e6e", "strokeWidth": 1, "opacity": 1}, "encoding": {"x": {"datum": 0, "type": "quantitative", "axis": null}, "y": {"datum": 0, "type": "quantitative", "axis": null}}},
{"data": {"values": [{}]}, "mark": {"type": "tick", "orient": "horizontal", "size": 16, "thickness": 1, "color": "#7f7f7f"}, "encoding": {"x": {"datum": 0, "type": "quantitative", "axis": null}, "y": {"datum": 198.2, "type": "quantitative", "axis": null}}}
]},
{"layer": [
{"data": {"values": [{}]}, "mark": {"type": "rule", "color": "#7f7f7f", "strokeWidth": 1}, "encoding": {"x": {"datum": 2500, "type": "quantitative"}, "y": {"datum": 0, "type": "quantitative", "axis": null}, "y2": {"datum": 198.2}}},
{"data": {"name": "r51_d"}, "mark": {"type": "rule", "color": "#008000", "strokeWidth": 4.6, "strokeCap": "round"}, "encoding": {"x": {"field": "d", "type": "quantitative", "scale": {"domain": [2500, 3300], "range": [247.2, 444.8], "nice": false, "zero": false}, "axis": {"orient": "bottom", "title": null, "values": [2500,2600,2700,2800,2900,3000,3100,3200,3300], "format": "d", "labelAngle": 90, "labelFontSize": 16, "labelColor": "#000000", "tickSize": 13, "tickColor": "#7f7f7f", "domainColor": "#7f7f7f", "labelPadding": 9, "offset": 2.5, "grid": false, "labelFlush": false, "labelOverlap": false, "labelBound": false}}, "x2": {"datum": 2500}, "y": {"field": "depth", "type": "quantitative", "scale": {"domain": [0, 198.2], "reverse": true, "nice": false, "zero": false}, "axis": null}}},
{"data": {"values": [{"t": "D_kg_m3"}]}, "mark": {"type": "text", "fontSize": 20.5, "align": "center", "baseline": "alphabetic", "dy": -15.3, "color": "#000000"}, "encoding": {"x": {"datum": 2500, "type": "quantitative"}, "y": {"datum": 0, "type": "quantitative", "axis": null}, "text": {"field": "t"}}},
{"data": {"values": [{}]}, "mark": {"type": "point", "shape": "circle", "filled": false, "size": 190, "color": "#6e6e6e", "strokeWidth": 1, "opacity": 1}, "encoding": {"x": {"datum": 2500, "type": "quantitative"}, "y": {"datum": 0, "type": "quantitative", "axis": null}}},
{"data": {"values": [{}]}, "mark": {"type": "tick", "orient": "horizontal", "size": 16, "thickness": 1, "color": "#7f7f7f"}, "encoding": {"x": {"datum": 2500, "type": "quantitative"}, "y": {"datum": 198.2, "type": "quantitative", "axis": null}}}
]},
{"layer": [
{"data": {"values": [{}]}, "mark": {"type": "rule", "color": "#7f7f7f", "strokeWidth": 1}, "encoding": {"x": {"datum": 0, "type": "quantitative"}, "y": {"datum": 0, "type": "quantitative", "axis": null}, "y2": {"datum": 198.2}}},
{"data": {"name": "r51_k"}, "mark": {"type": "rule", "color": "#800040", "strokeWidth": 4.5, "strokeCap": "round"}, "encoding": {"x": {"field": "k", "type": "quantitative", "scale": {"domain": [0, 100000], "range": [493.8, 592.8], "nice": false, "zero": false}, "axis": {"orient": "bottom", "title": null, "values": [0,20000,40000,60000,80000,100000], "format": "d", "labelAngle": 90, "labelFontSize": 16, "labelColor": "#000000", "tickSize": 13, "tickColor": "#7f7f7f", "domainColor": "#7f7f7f", "labelPadding": 9, "offset": 2.5, "grid": false, "labelFlush": false, "labelOverlap": false, "labelBound": false}}, "x2": {"datum": 0}, "y": {"field": "depth", "type": "quantitative", "scale": {"domain": [0, 198.2], "reverse": true, "nice": false, "zero": false}, "axis": null}}},
{"data": {"values": [{"t": "K_uSI"}]}, "mark": {"type": "text", "fontSize": 20.5, "align": "center", "baseline": "alphabetic", "dy": -15.3, "color": "#000000"}, "encoding": {"x": {"datum": 0, "type": "quantitative"}, "y": {"datum": 0, "type": "quantitative", "axis": null}, "text": {"field": "t"}}},
{"data": {"values": [{}]}, "mark": {"type": "point", "shape": "circle", "filled": false, "size": 190, "color": "#6e6e6e", "strokeWidth": 1, "opacity": 1}, "encoding": {"x": {"datum": 0, "type": "quantitative"}, "y": {"datum": 0, "type": "quantitative", "axis": null}}},
{"data": {"values": [{}]}, "mark": {"type": "tick", "orient": "horizontal", "size": 16, "thickness": 1, "color": "#7f7f7f"}, "encoding": {"x": {"datum": 0, "type": "quantitative"}, "y": {"datum": 198.2, "type": "quantitative", "axis": null}}}
]},
{"layer": [
{"data": {"values": [{}]}, "mark": {"type": "rule", "color": "#7f7f7f", "strokeWidth": 1}, "encoding": {"x": {"datum": 1, "type": "quantitative", "scale": {"domain": [1, 5], "range": [741.5, 939.5], "nice": false, "zero": false}, "axis": null}, "y": {"datum": 0, "type": "quantitative", "axis": null}, "y2": {"datum": 198.2}}},
{"data": {"values": [{"t": "log_res"}]}, "mark": {"type": "text", "fontSize": 20.5, "align": "center", "baseline": "alphabetic", "dy": -15.3, "color": "#000000"}, "encoding": {"x": {"datum": 1, "type": "quantitative", "axis": null}, "y": {"datum": 0, "type": "quantitative", "axis": null}, "text": {"field": "t"}}},
{"data": {"values": [{}]}, "mark": {"type": "point", "shape": "circle", "filled": false, "size": 190, "color": "#6e6e6e", "strokeWidth": 1, "opacity": 1}, "encoding": {"x": {"datum": 1, "type": "quantitative", "axis": null}, "y": {"datum": 0, "type": "quantitative", "axis": null}}},
{"data": {"values": [{}]}, "mark": {"type": "tick", "orient": "horizontal", "size": 16, "thickness": 1, "color": "#7f7f7f"}, "encoding": {"x": {"datum": 1, "type": "quantitative", "axis": null}, "y": {"datum": 198.2, "type": "quantitative", "axis": null}}}
]},
{"layer": [
{"data": {"values": [{}]}, "mark": {"type": "rule", "color": "#7f7f7f", "strokeWidth": 1}, "encoding": {"x": {"datum": 0, "type": "quantitative", "scale": {"domain": [0, 3], "range": [988.8, 1137.3], "nice": false, "zero": false}, "axis": null}, "y": {"datum": 0, "type": "quantitative", "axis": null}, "y2": {"datum": 198.2}}},
{"data": {"values": [{"t": "Sulphides"}]}, "mark": {"type": "text", "fontSize": 20.5, "align": "center", "baseline": "alphabetic", "dy": -15.3, "color": "#000000"}, "encoding": {"x": {"datum": 0, "type": "quantitative", "axis": null}, "y": {"datum": 0, "type": "quantitative", "axis": null}, "text": {"field": "t"}}},
{"data": {"values": [{}]}, "mark": {"type": "point", "shape": "circle", "filled": false, "size": 190, "color": "#6e6e6e", "strokeWidth": 1, "opacity": 1}, "encoding": {"x": {"datum": 0, "type": "quantitative", "axis": null}, "y": {"datum": 0, "type": "quantitative", "axis": null}}},
{"data": {"values": [{}]}, "mark": {"type": "tick", "orient": "horizontal", "size": 16, "thickness": 1, "color": "#7f7f7f"}, "encoding": {"x": {"datum": 0, "type": "quantitative", "axis": null}, "y": {"datum": 198.2, "type": "quantitative", "axis": null}}}
]}
]
},
{"data": {"values": [{"depth": 0}, {"depth": 198.2}]}, "mark": {"type": "point", "opacity": 0}, "encoding": {"y": {"field": "depth", "type": "quantitative", "scale": {"domain": [0, 198.2], "reverse": true, "nice": false, "zero": false}, "axis": {"orient": "left", "title": null, "values": [0,20,40,60,80,100,120,140,160,180], "labelExpr": "datum.value == 20 ? '20 m' : (datum.value == 0 ? '' : '' + datum.value)", "labelFontSize": 20.5, "labelColor": "#000000", "tickSize": 8, "tickColor": "#7f7f7f", "domainColor": "#7f7f7f", "labelPadding": 3.5, "grid": true, "gridColor": "#8c8c8c", "gridDash": [22, 9], "gridWidth": 1, "labelFlush": false, "labelOverlap": false, "labelBound": false}}}},
{"data": {"values": [{"rl": 120.3}, {"rl": -7.2}]}, "mark": {"type": "point", "opacity": 0}, "encoding": {"y": {"field": "rl", "type": "quantitative", "scale": {"domain": [-7.2, 120.3], "nice": false, "zero": false}, "axis": {"orient": "right", "title": null, "values": [120,110,100,90,80,70,60,50,40,30,20,10,0], "labelExpr": "'' + datum.value", "labelFontSize": 20.5, "labelColor": "#000000", "tickSize": 6, "tickColor": "#7f7f7f", "domainColor": "#7f7f7f", "labelPadding": 4, "grid": false, "labelFlush": false, "labelOverlap": false, "labelBound": false}}}}
]
}
]
}
